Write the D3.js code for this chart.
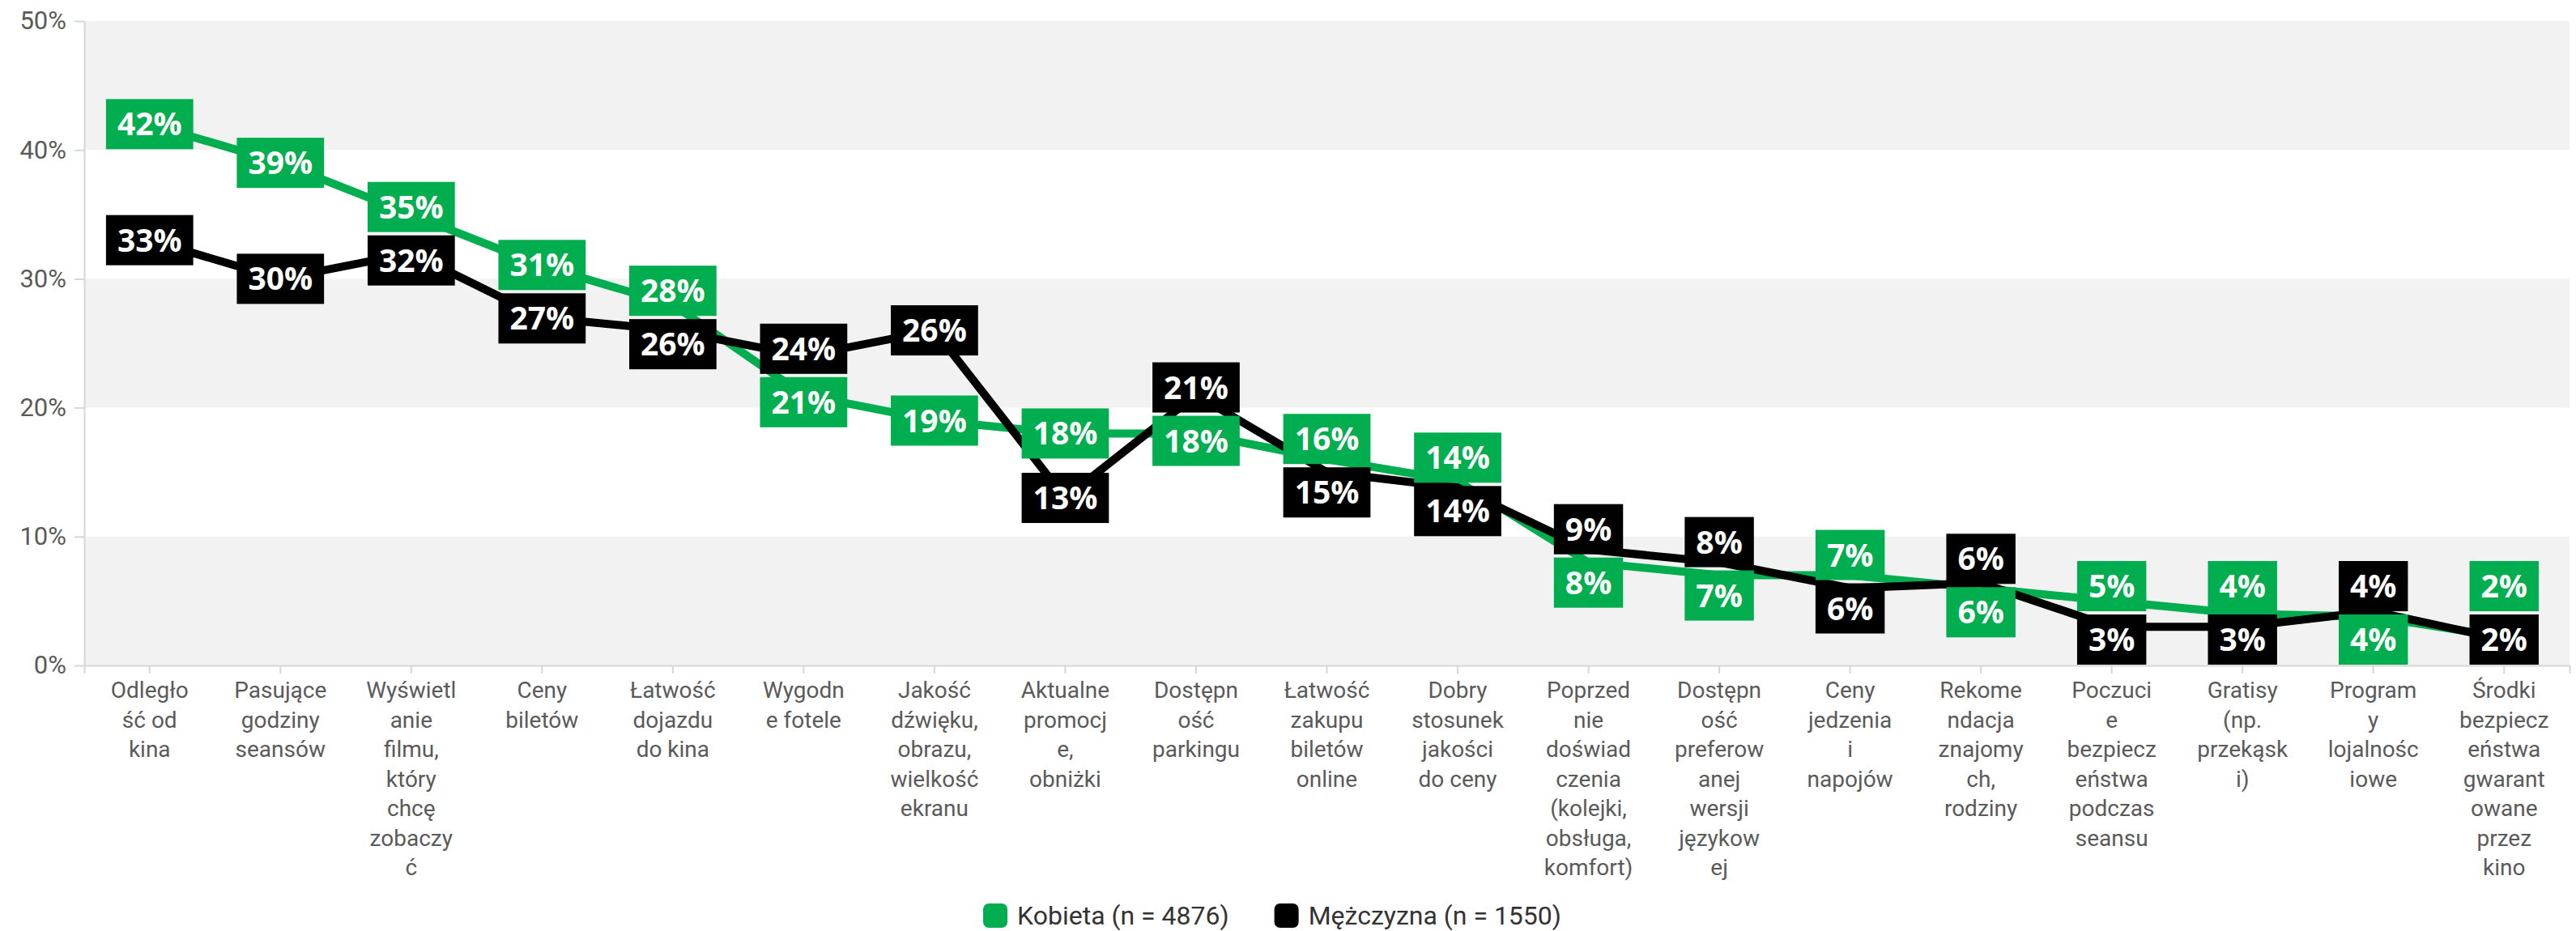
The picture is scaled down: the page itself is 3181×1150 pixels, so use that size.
<!DOCTYPE html>
<html lang="pl">
<head>
<meta charset="utf-8">
<title>Czynniki wyboru kina</title>
<script src="https://cdn.jsdelivr.net/npm/d3@7"></script>
<style>
  html, body { margin: 0; padding: 0; background: #fff; }
  svg { display: block; }
  .axis-label { font-family: Roboto, "Liberation Sans", sans-serif; font-size: 28px; fill: #5a5a5a; }
  .tick-label { font-family: Roboto, "Liberation Sans", sans-serif; font-size: 31px; fill: #5a5a5a; }
  .value-label { font-family: "Open Sans", "Noto Sans", sans-serif; font-weight: 700; font-size: 39px; fill: #fff; }
  .legend-text { font-family: Roboto, "Liberation Sans", sans-serif; font-size: 32px; fill: #333; }
</style>
</head>
<body>
<svg id="chart" width="3181" height="1150"></svg>
<script>
// Categories (full names) and how their labels wrap under the axis
const categories = [
  "Odległość od kina",
  "Pasujące godziny seansów",
  "Wyświetlanie filmu, który chcę zobaczyć",
  "Ceny biletów",
  "Łatwość dojazdu do kina",
  "Wygodne fotele",
  "Jakość dźwięku, obrazu, wielkość ekranu",
  "Aktualne promocje, obniżki",
  "Dostępność parkingu",
  "Łatwość zakupu biletów online",
  "Dobry stosunek jakości do ceny",
  "Poprzednie doświadczenia (kolejki, obsługa, komfort)",
  "Dostępność preferowanej wersji językowej",
  "Ceny jedzenia i napojów",
  "Rekomendacja znajomych, rodziny",
  "Poczucie bezpieczeństwa podczas seansu",
  "Gratisy (np. przekąski)",
  "Programy lojalnościowe",
  "Środki bezpieczeństwa gwarantowane przez kino"
];
const categoryLines = [
  ["Odległo", "ść od", "kina"],
  ["Pasujące", "godziny", "seansów"],
  ["Wyświetl", "anie", "filmu,", "który", "chcę", "zobaczy", "ć"],
  ["Ceny", "biletów"],
  ["Łatwość", "dojazdu", "do kina"],
  ["Wygodn", "e fotele"],
  ["Jakość", "dźwięku,", "obrazu,", "wielkość", "ekranu"],
  ["Aktualne", "promocj", "e,", "obniżki"],
  ["Dostępn", "ość", "parkingu"],
  ["Łatwość", "zakupu", "biletów", "online"],
  ["Dobry", "stosunek", "jakości", "do ceny"],
  ["Poprzed", "nie", "doświad", "czenia", "(kolejki,", "obsługa,", "komfort)"],
  ["Dostępn", "ość", "preferow", "anej", "wersji", "językow", "ej"],
  ["Ceny", "jedzenia", "i", "napojów"],
  ["Rekome", "ndacja", "znajomy", "ch,", "rodziny"],
  ["Poczuci", "e", "bezpiecz", "eństwa", "podczas", "seansu"],
  ["Gratisy", "(np.", "przekąsk", "i)"],
  ["Program", "y", "lojalnośc", "iowe"],
  ["Środki", "bezpiecz", "eństwa", "gwarant", "owane", "przez", "kino"]
];

// Share of respondents (%) by gender
const kobieta   = [42, 39, 35, 31, 28, 21, 19, 18, 18, 16, 14.3, 8, 7, 7, 6.0, 5, 4, 3.8, 2.2];
const mezczyzna = [33, 30, 32, 27, 26, 24, 26, 13, 21, 15, 13.8, 9, 8, 6, 6.4, 3, 3, 4.2, 2.0];

const seriesNames = ["Kobieta (n = 4876)", "Mężczyzna (n = 1550)"];
const seriesColors = ["#00ae4f", "#000000"];
const yTicks = [0, 10, 20, 30, 40, 50];

const svg = d3.select("#chart");
const plot = { left: 104, right: 3173, top: 26, bottom: 822 };

const x = d3.scaleBand().domain(categories).range([plot.left, plot.right]);
const y = d3.scaleLinear().domain([0, 50]).range([plot.bottom, plot.top]);
const cx = c => x(c) + x.bandwidth() / 2;

// Alternating background bands
const bandG = svg.append("g");
yTicks.slice(0, -1).forEach((t, i) => {
  if (i % 2 === 0) {
    bandG.append("rect")
      .attr("x", plot.left)
      .attr("width", plot.right - plot.left)
      .attr("y", y(yTicks[i + 1]))
      .attr("height", y(t) - y(yTicks[i + 1]))
      .attr("fill", "#f2f2f2");
  }
});

// Y axis
const yAxis = svg.append("g")
  .attr("transform", `translate(${plot.left},0)`)
  .call(d3.axisLeft(y).tickValues(yTicks).tickFormat(d => d + "%")
    .tickSize(12).tickSizeOuter(0).tickPadding(10));
yAxis.selectAll("path, line").attr("stroke", "#d6d6d6").attr("stroke-width", 2);
yAxis.selectAll("text").attr("class", "tick-label").attr("font-size", null).attr("font-family", null);

// X axis
const xAxis = svg.append("g")
  .attr("transform", `translate(0,${plot.bottom})`)
  .call(d3.axisBottom(x).tickSize(10).tickSizeOuter(10).tickFormat(""));
xAxis.selectAll("path, line").attr("stroke", "#d6d6d6").attr("stroke-width", 2);

const catLabels = svg.append("g").selectAll("text")
  .data(categories)
  .join("text")
  .attr("class", "axis-label")
  .attr("text-anchor", "middle")
  .attr("x", d => cx(d))
  .attr("y", 862);
catLabels.each(function (d, i) {
  d3.select(this).selectAll("tspan")
    .data(categoryLines[i])
    .join("tspan")
    .attr("x", cx(d))
    .attr("dy", (l, j) => j === 0 ? 0 : 36.5)
    .text(l => l);
});

// Lines
const series = [kobieta, mezczyzna];
const line = d3.line()
  .x((v, i) => cx(categories[i]))
  .y(v => y(v));
svg.append("g").selectAll("path")
  .data(series)
  .join("path")
  .attr("d", d => line(d))
  .attr("fill", "none")
  .attr("stroke", (d, i) => seriesColors[i])
  .attr("stroke-width", 10)
  .attr("stroke-linejoin", "round");

// Value labels: boxes centred on the points, pushed apart where they overlap
const boxH = 62, gap = 4, padX = 14;
const labelG = svg.append("g");
categories.forEach((c, i) => {
  const items = series.map((s, k) => ({ k, v: s[i], cy: y(s[i]) }));
  items.sort((a, b) => a.cy - b.cy || a.k - b.k);
  const need = boxH + gap;
  if (items[1].cy - items[0].cy < need) {
    const mid = (items[0].cy + items[1].cy) / 2;
    items[0].cy = mid - need / 2;
    items[1].cy = mid + need / 2;
  }
  const over = items[1].cy + boxH / 2 - (plot.bottom - 1);
  if (over > 0) { items[0].cy -= over; items[1].cy -= over; }
  items.forEach(it => {
    const g = labelG.append("g");
    const rect = g.append("rect").attr("fill", seriesColors[it.k]);
    const txt = g.append("text")
      .attr("class", "value-label")
      .attr("text-anchor", "middle")
      .attr("x", cx(c))
      .attr("y", it.cy)
      .attr("dy", "0.36em")
      .text(Math.round(it.v) + "%");
    const w = txt.node().getComputedTextLength() + padX * 2;
    rect.attr("x", cx(c) - w / 2).attr("y", it.cy - boxH / 2)
      .attr("width", w).attr("height", boxH);
  });
});

// Legend
const legend = svg.append("g");
let lx = 0;
seriesNames.forEach((name, i) => {
  const g = legend.append("g");
  g.append("rect").attr("x", 0).attr("y", -15).attr("width", 30).attr("height", 30)
    .attr("rx", 7).attr("fill", seriesColors[i]);
  const t = g.append("text").attr("class", "legend-text").attr("x", 42).attr("y", 0)
    .attr("dy", "0.35em").text(name);
  const w = 42 + t.node().getComputedTextLength();
  g.attr("transform", `translate(${lx},0)`);
  lx += w + 56;
});
const legendW = lx - 56;
legend.attr("transform", `translate(${1571 - legendW / 2},1131)`);
</script>
</body>
</html>
